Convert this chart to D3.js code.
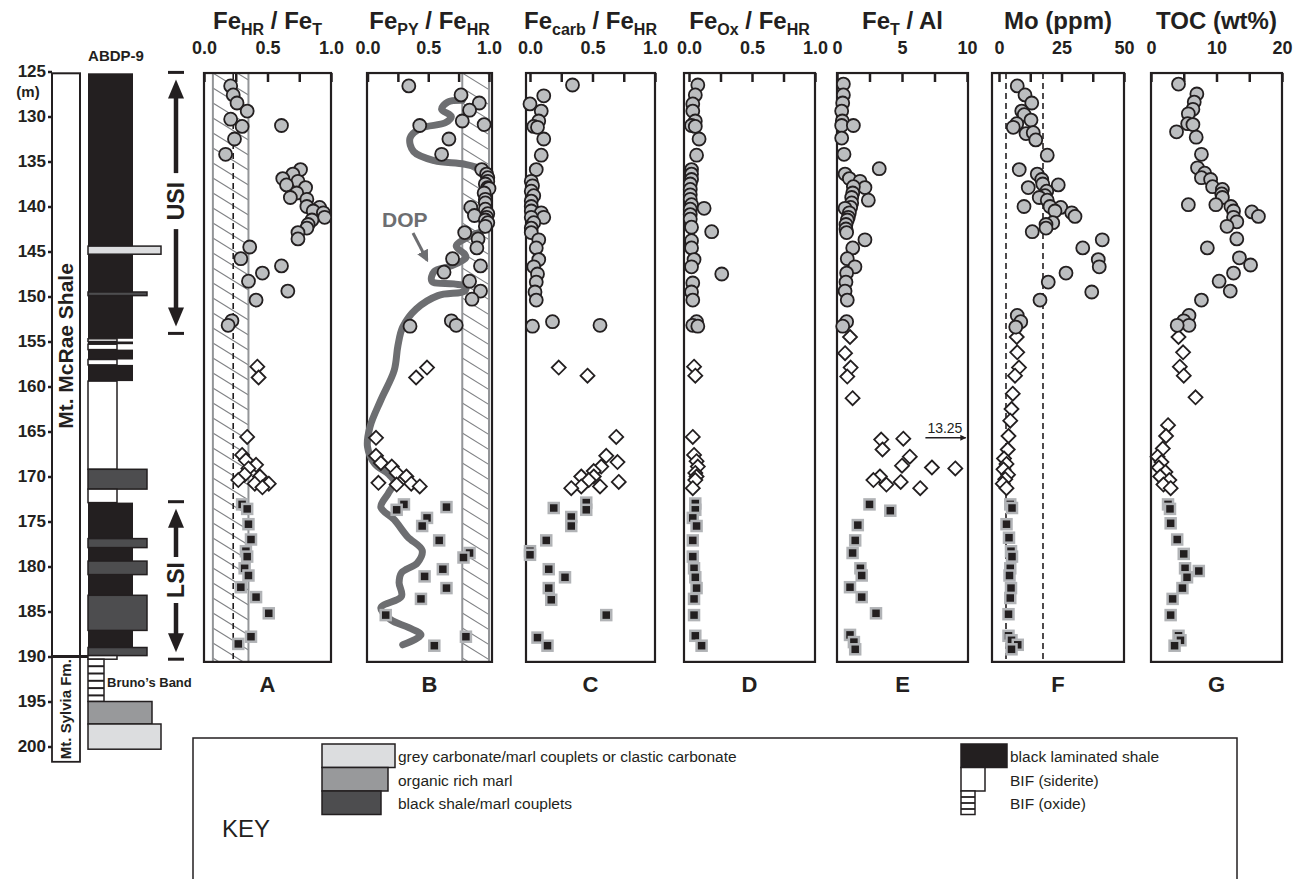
<!DOCTYPE html>
<html>
<head>
<meta charset="utf-8">
<script src="https://cdn.jsdelivr.net/npm/d3@7"></script>
<style>
  body { margin: 0; background: #fff; }
  text { font-family: "Liberation Sans", Arial, Helvetica, sans-serif; fill: #231f20; }
</style>
</head>
<body>
<svg id="chart" width="1297" height="879"></svg>
<script>
// depth axis (m)
const depthTicks = [125, 130, 135, 140, 145, 150, 155, 160, 165, 170, 175, 180, 185, 190, 195, 200];

// axis tick labels
const ratioTicks = [0, 0.5, 1.0];
const feAlTicks = [0, 5, 10];
const moTicks = [0, 25, 50];
const tocTicks = [0, 10, 20];

// reference lines / shaded bands
const feHrBand = [0.07, 0.35];
const feHrDashed = [0.23];
const fePyBand = [0.78, 1.0];
const moDashed = [2.8, 17.6];

// [depth, value] - circles (upper), diamonds (middle), squares (lower)
const feHrT_circ = [[126.6,0.21],[127.6,0.23],[128.5,0.26],[129.4,0.34],[130.3,0.21],[131.1,0.30],[131.0,0.61],[132.5,0.24],[134.2,0.17],
  [135.9,0.76],[136.4,0.70],[136.9,0.62],[137.2,0.74],[137.6,0.65],[137.9,0.80],[138.5,0.73],[139.0,0.68],[139.2,0.81],[140.0,0.81],
  [140.1,0.91],[140.5,0.86],[140.7,0.94],[141.2,0.95],[141.5,0.85],[142.0,0.82],[142.4,0.81],[142.9,0.74],[143.6,0.74],
  [144.5,0.36],[145.8,0.29],[146.6,0.61],[147.4,0.46],[148.3,0.35],[149.4,0.66],[150.4,0.41],[152.7,0.22],[153.2,0.19]];
const feHrT_dia = [[157.8,0.42],[159.0,0.43],[165.6,0.34],[167.6,0.30],[168.2,0.33],[168.7,0.41],[169.1,0.35],[169.8,0.32],
  [170.0,0.44],[170.4,0.27],[170.8,0.40],[170.8,0.51],[171.2,0.46]];
const feHrT_sq = [[173.1,0.30],[173.6,0.34],[175.3,0.35],[177.0,0.37],[178.3,0.33],[178.9,0.34],[180.2,0.32],[181.0,0.35],
  [182.3,0.29],[183.4,0.41],[185.2,0.51],[187.8,0.37],[188.6,0.27]];

const fePy_circ = [[126.6,0.34],[127.6,0.77],[128.5,0.92],[129.3,0.84],[130.5,0.78],[130.9,0.96],[131.0,0.43],[132.5,0.67],[134.2,0.61],
  [135.9,0.94],[136.4,0.98],[136.8,0.99],[137.2,0.99],[137.5,0.97],[137.9,0.99],[138.0,1.0],[138.5,0.96],[139.2,0.97],[139.6,0.97],
  [140.1,0.85],[140.3,0.97],[140.8,0.99],[141.0,0.88],[141.2,0.98],[141.5,0.97],[141.8,0.99],[142.2,0.97],[142.9,0.80],[143.6,0.91],
  [144.6,0.90],[145.8,0.70],[146.6,0.93],[147.3,0.63],[148.3,0.84],[149.4,0.93],[150.3,0.86],[152.7,0.69],[153.2,0.73],[153.3,0.35]];
const fePy_dia = [[157.9,0.49],[159.0,0.40],[165.7,0.07],[167.7,0.07],[168.5,0.11],[168.9,0.20],[169.6,0.24],[170.0,0.32],
  [170.7,0.09],[170.9,0.24],[170.8,0.36],[171.1,0.43]];
const fePy_sq = [[173.1,0.30],[173.7,0.24],[173.4,0.65],[174.6,0.49],[175.5,0.45],[177.1,0.59],[178.5,0.84],[179.0,0.79],
  [180.3,0.62],[181.1,0.47],[182.4,0.65],[183.6,0.44],[185.4,0.15],[187.8,0.81],[188.8,0.55]];
// degree of pyritization trend
const dopLine = [[128.2,0.78],[128.4,0.66],[129.2,0.61],[130.0,0.69],[130.7,0.64],[131.3,0.44],[132.4,0.35],[133.9,0.38],
  [134.9,0.55],[135.3,0.80],[135.9,0.95],[136.6,1.0],[138.6,0.99],[141.2,0.98],[142.5,0.97],[143.3,0.84],[144.4,0.73],
  [145.3,0.80],[145.7,0.81],[146.6,0.69],[147.2,0.55],[148.3,0.53],[148.6,0.71],[148.9,0.81],[149.4,0.80],[149.9,0.58],
  [151.4,0.40],[153.4,0.29],[155.5,0.25],[158.2,0.22],[161.5,0.11],[164.5,0.02],[166.7,0.0],[168.6,0.06],[169.7,0.17],
  [170.6,0.22],[171.9,0.17],[173.4,0.11],[174.8,0.22],[176.7,0.33],[178.2,0.45],[179.6,0.41],[180.7,0.28],[181.8,0.26],
  [183.3,0.28],[184.6,0.11],[185.9,0.19],[186.8,0.34],[187.6,0.44],[188.7,0.29]];

const feCarb_circ = [[126.5,0.34],[127.7,0.11],[128.6,0.00],[129.4,0.09],[130.5,0.07],[131.1,0.03],[131.2,0.06],[132.5,0.11],
  [134.3,0.09],[135.9,0.05],[137.2,0.01],[137.7,0.02],[138.3,0.01],[138.8,0.03],[139.4,0.01],[140.0,0.01],[140.5,0.01],
  [140.7,0.09],[141.2,0.11],[141.2,0.01],[141.8,0.03],[142.4,0.01],[142.9,0.01],[143.7,0.07],[144.6,0.05],[145.9,0.07],
  [146.7,0.03],[147.5,0.06],[148.4,0.05],[149.5,0.04],[150.4,0.05],[152.8,0.18],[153.3,0.02],[153.2,0.56]];
const feCarb_dia = [[157.9,0.23],[158.8,0.46],[165.6,0.69],[167.7,0.61],[168.4,0.70],[168.9,0.57],[169.4,0.51],[170.0,0.41],
  [170.0,0.51],[170.4,0.47],[170.6,0.71],[171.1,0.56],[171.1,0.41],[171.3,0.33]];
const feCarb_sq = [[173.5,0.19],[172.9,0.45],[173.7,0.45],[174.5,0.33],[175.5,0.33],[177.1,0.13],[178.3,0.00],[178.7,0.00],
  [180.3,0.15],[181.2,0.28],[182.4,0.15],[183.7,0.17],[185.4,0.61],[187.9,0.06],[188.8,0.14]];

const feOx_circ = [[126.5,0.07],[127.6,0.05],[128.6,0.03],[129.4,0.03],[130.5,0.05],[131.0,0.02],[131.1,0.05],[132.5,0.08],
  [134.3,0.06],[135.9,0.02],[136.4,0.02],[137.0,0.02],[137.5,0.01],[138.1,0.01],[138.7,0.01],[139.2,0.01],[139.8,0.02],
  [140.2,0.12],[140.3,0.01],[140.9,0.01],[141.4,0.01],[142.3,0.02],[142.8,0.18],[143.8,0.02],[144.6,0.02],[145.9,0.04],
  [146.7,0.02],[147.5,0.26],[148.5,0.03],[149.5,0.02],[150.4,0.03],[152.8,0.06],[153.2,0.03],[153.3,0.07]];
const feOx_dia = [[157.8,0.04],[158.8,0.05],[165.6,0.03],[167.6,0.04],[168.3,0.06],[168.9,0.07],[169.6,0.05],[170.0,0.06],
  [170.4,0.05],[171.3,0.03]];
const feOx_sq = [[173.0,0.05],[173.7,0.05],[174.6,0.03],[175.5,0.06],[177.1,0.03],[178.9,0.03],[180.2,0.04],[181.2,0.05],
  [182.4,0.06],[183.6,0.04],[185.4,0.04],[187.7,0.05],[188.8,0.10]];

const feTAl_circ = [[126.4,0.49],[127.6,0.49],[128.5,0.44],[129.4,0.36],[130.5,0.41],[131.0,0.36],[131.0,1.26],[132.4,0.36],
  [134.2,0.54],[135.8,3.25],[136.4,0.62],[136.9,0.95],[137.2,1.77],[137.9,2.15],[137.8,1.26],[138.5,1.21],[139.0,1.13],
  [139.3,2.41],[139.6,1.13],[140.1,1.05],[140.2,0.62],[140.7,0.95],[141.2,0.87],[141.5,0.79],[142.0,0.69],[142.5,0.69],
  [142.9,0.74],[143.7,2.15],[144.6,1.21],[145.8,0.79],[146.7,1.38],[147.4,0.74],[148.4,0.69],[149.4,0.62],[150.4,0.79],
  [152.8,0.74],[153.3,0.44]];
const feTAl_dia = [[154.5,1.00],[156.3,0.62],[157.9,1.05],[158.9,0.79],[161.3,1.2],[165.9,3.4],[167.0,3.5],[165.8,5.1],
  [167.8,5.6],[168.8,5.0],[169.0,7.3],[169.1,9.1],[170.0,3.3],[170.4,2.8],[170.9,3.8],[170.6,4.9],[171.3,6.4]];
const feTAl_sq = [[173.1,2.5],[173.8,4.1],[175.4,1.6],[177.1,1.4],[178.5,1.2],[180.2,1.8],[181.0,1.9],[182.3,1.0],
  [183.4,1.9],[185.2,3.0],[187.6,1.0],[188.4,1.3],[189.2,1.4]];
const feTAl_offscale = [165.7, 13.25];

const mo_circ = [[126.6,7.3],[127.6,10.4],[128.5,13.1],[129.4,9.1],[129.8,10.1],[130.4,12.8],[130.8,7.1],[131.2,5.7],
  [131.9,10.8],[131.8,13.7],[132.6,14.7],[134.3,19.3],[135.9,8.1],[136.4,15.3],[137.0,17.1],[137.5,17.5],[137.6,23.7],
  [137.9,11.7],[138.3,19.1],[138.8,18.4],[139.0,16.1],[139.3,19.3],[140.0,20.4],[140.0,10.0],[140.1,24.7],[140.5,22.4],
  [140.7,29.1],[141.1,30.4],[141.8,21.5],[142.0,18.8],[142.4,18.8],[142.8,13.3],[143.7,41.3],[144.6,33.5],[145.9,39.7],
  [146.7,40.1],[147.4,26.8],[148.4,19.7],[149.5,37.1],[150.4,16.4],[152.1,7.3],[152.8,8.7],[153.4,6.7]];
const mo_dia = [[154.5,7.1],[156.2,7.3],[157.9,8.0],[158.8,6.4],[160.8,5.5],[162.5,5.0],[163.8,4.5],[165.5,3.8],[167.0,3.5],
  [168.0,2.0],[168.6,3.0],[169.2,1.8],[169.8,3.6],[170.3,2.5],[170.8,1.5],[171.3,3.0]];
const mo_sq = [[173.1,4.5],[173.5,5.2],[175.3,3.0],[176.8,4.0],[178.3,4.8],[178.9,5.2],[180.2,4.5],[181.0,4.2],[182.4,4.8],
  [183.5,4.5],[185.3,3.8],[187.7,3.8],[188.2,5.0],[188.7,7.5],[189.2,5.0]];

const toc_circ = [[126.4,4.2],[127.5,7.0],[128.4,6.6],[129.2,6.4],[129.7,5.7],[130.8,5.6],[130.9,6.4],[131.7,3.9],[132.3,6.9],
  [134.2,7.7],[135.7,7.1],[136.3,8.2],[136.8,7.7],[137.0,9.1],[137.8,9.4],[138.1,10.9],[138.6,10.8],[139.0,10.9],[139.8,5.7],
  [139.8,9.9],[140.0,12.2],[140.5,12.6],[140.6,15.4],[141.1,16.4],[141.2,12.6],[141.7,13.1],[142.2,11.6],[143.6,13.1],
  [144.6,8.6],[145.7,13.5],[146.5,15.2],[147.4,12.6],[148.3,10.4],[149.4,12.1],[150.4,7.7],[152.1,5.8],[152.7,5.0],
  [153.2,5.8],[153.2,4.0]];
const toc_dia = [[154.5,4.2],[156.2,4.9],[157.8,4.4],[158.8,5.0],[161.2,6.8],[164.3,2.6],[165.5,2.3],[166.9,1.8],[167.8,1.0],
  [168.4,1.6],[169.0,1.2],[169.5,2.2],[170.0,1.4],[170.4,2.8],[170.9,1.9],[171.3,3.0]];
const toc_sq = [[173.1,2.6],[173.6,2.9],[175.2,3.0],[177.0,4.0],[178.6,5.0],[180.2,5.2],[180.5,7.3],[181.2,5.5],[182.4,4.8],
  [183.6,3.3],[185.4,3.0],[187.7,4.2],[188.2,4.5],[188.8,3.6]];

// lithology beds [top, base, type]
const lithBeds = [
  [125.2,154.7,"black"],[154.7,155.0,"siderite"],[155.0,155.3,"black"],[155.3,155.9,"siderite"],
  [155.9,157.0,"black"],[157.0,157.6,"siderite"],[157.6,159.4,"black"],[159.4,169.2,"siderite"],
  [169.2,171.4,"couplet"],[171.4,172.9,"siderite"],[172.9,176.9,"black"],[176.9,177.9,"couplet"],
  [177.9,179.4,"black"],[179.4,180.9,"couplet"],[180.9,183.2,"black"],[183.2,187.1,"couplet"],
  [187.1,189.0,"black"],[189.0,189.9,"couplet"],[189.9,190.3,"siderite"],[190.3,195.0,"oxide"],
  [195.0,197.5,"marl"],[197.5,200.3,"carb"],[144.4,145.3,"carb"],[149.5,149.9,"couplet"]];
const formations = [["Mt. McRae Shale", 125.2, 190.0], ["Mt. Sylvia Fm.", 190.0, 201.7]];
const units = [["USI", 125.1, 154.1, 139.4], ["LSI", 172.8, 190.3, 181.5]];

// ---------- layout ----------
const svg = d3.select("#chart");
const ink = "#231f20";
const y = d3.scaleLinear().domain([125, 200]).range([71.5, 746.5]);
const boxTop = y(125.17), boxBot = y(190.6);

const fmt1 = d3.format(".1f"), fmt0 = d3.format("d");
const panels = [
  { letter: "A", title: [["Fe",0],["HR",1],[" / ",0],["Fe",0],["T",1]], zero: 204, full: 331, left: 204, right: 331,
    max: 1, ticks: ratioTicks, fmt: fmt1, band: feHrBand, dashed: feHrDashed, data: [feHrT_dia, feHrT_circ, feHrT_sq] },
  { letter: "B", title: [["Fe",0],["PY",1],[" / ",0],["Fe",0],["HR",1]], zero: 367.5, full: 489, left: 367, right: 492,
    max: 1, ticks: ratioTicks, fmt: fmt1, band: fePyBand, dashed: [], data: [fePy_dia, fePy_circ, fePy_sq] },
  { letter: "C", title: [["Fe",0],["carb",1],[" / ",0],["Fe",0],["HR",1]], zero: 530, full: 655, left: 526, right: 655,
    max: 1, ticks: ratioTicks, fmt: fmt1, band: null, dashed: [], data: [feCarb_dia, feCarb_circ, feCarb_sq] },
  { letter: "D", title: [["Fe",0],["Ox",1],[" / ",0],["Fe",0],["HR",1]], zero: 689, full: 815, left: 684, right: 815,
    max: 1, ticks: ratioTicks, fmt: fmt1, band: null, dashed: [], data: [feOx_dia, feOx_circ, feOx_sq] },
  { letter: "E", title: [["Fe",0],["T",1],[" / Al",0]], zero: 837, full: 967, left: 837, right: 968,
    max: 10, ticks: feAlTicks, fmt: fmt0, band: null, dashed: [], data: [feTAl_dia, feTAl_circ, feTAl_sq] },
  { letter: "F", title: [["Mo (ppm)",0]], zero: 999, full: 1124, left: 992, right: 1124,
    max: 50, ticks: moTicks, fmt: fmt0, band: null, dashed: moDashed, data: [mo_dia, mo_circ, mo_sq] },
  { letter: "G", title: [["TOC (wt%)",0]], zero: 1151, full: 1282, left: 1151, right: 1282,
    max: 20, ticks: tocTicks, fmt: fmt0, band: null, dashed: [], data: [toc_dia, toc_circ, toc_sq] },
];

const defs = svg.append("defs");
defs.append("marker").attr("id", "headGray").attr("viewBox", "0 0 10 10").attr("refX", 8).attr("refY", 5)
  .attr("markerWidth", 4).attr("markerHeight", 4).attr("orient", "auto")
  .append("path").attr("d", "M0,0L10,5L0,10Z").attr("fill", "#6d6e71");
defs.append("marker").attr("id", "headInk").attr("viewBox", "0 0 10 10").attr("refX", 9).attr("refY", 5)
  .attr("markerWidth", 7).attr("markerHeight", 6).attr("orient", "auto").attr("markerUnits", "userSpaceOnUse")
  .append("path").attr("d", "M0,0L10,5L0,10Z").attr("fill", ink);

function title(g, cx, pieces) {
  const t = g.append("text").attr("x", cx).attr("y", 29).attr("text-anchor", "middle")
    .style("font-size", "24px").style("font-weight", "bold");
  let sub = false;
  pieces.forEach(([s, isSub]) => {
    const ts = t.append("tspan").text(s);
    if (isSub && !sub) ts.attr("dy", 6).style("font-size", "16px");
    else if (isSub) ts.style("font-size", "16px");
    else if (!isSub && sub) ts.attr("dy", -6);
    sub = !!isSub;
  });
}

panels.forEach((p, pi) => {
  const x = d3.scaleLinear().domain([0, p.max]).range([p.zero, p.full]);
  const g = svg.append("g");

  if (p.band) {
    const bx0 = x(p.band[0]), bx1 = x(p.band[1]);
    const cid = "clip" + pi;
    defs.append("clipPath").attr("id", cid).append("rect")
      .attr("x", bx0).attr("y", boxTop).attr("width", bx1 - bx0).attr("height", boxBot - boxTop);
    g.append("g").attr("clip-path", `url(#${cid})`).selectAll("line")
      .data(d3.range(boxTop - 30, boxBot + 10, 15)).join("line")
      .attr("x1", bx0).attr("y1", d => d).attr("x2", bx1).attr("y2", d => d + (bx1 - bx0) * 0.62)
      .attr("stroke", "#808285").attr("stroke-width", 1.1);
    g.selectAll(".bandEdge").data(p.band).join("line")
      .attr("x1", d => x(d)).attr("x2", d => x(d)).attr("y1", boxTop).attr("y2", boxBot)
      .attr("stroke", "#939598").attr("stroke-width", 2);
  }
  g.selectAll(".dash").data(p.dashed).join("line")
    .attr("x1", d => x(d)).attr("x2", d => x(d)).attr("y1", boxTop).attr("y2", boxBot)
    .attr("stroke", ink).attr("stroke-width", 1.6).attr("stroke-dasharray", "6,4");

  g.append("rect").attr("x", p.left).attr("y", boxTop).attr("width", p.right - p.left)
    .attr("height", boxBot - boxTop).attr("fill", "none").attr("stroke", ink).attr("stroke-width", 2.2);

  const quarter = [0, 1, 2, 3, 4].map(i => p.max * i / 4);
  const axis = d3.axisTop(x).tickValues(quarter).tickSize(-9).tickPadding(19)
    .tickFormat(v => p.ticks.includes(v) ? p.fmt(v) : "");
  const ax = g.append("g").attr("transform", `translate(0,${boxTop})`).call(axis);
  ax.select(".domain").remove();
  ax.selectAll("line").attr("stroke", ink).attr("stroke-width", 2.5);
  ax.selectAll("text").style("font-size", "18px").style("font-weight", "bold").attr("fill", ink);

  title(g, (p.left + p.right) / 2, p.title);
  g.append("text").attr("x", (p.left + p.right) / 2).attr("y", 692).attr("text-anchor", "middle")
    .style("font-size", "22px").style("font-weight", "bold").text(p.letter);

  if (p.letter === "B") {
    g.append("path").datum(dopLine)
      .attr("d", d3.line().x(d => x(d[1])).y(d => y(d[0])).curve(d3.curveCatmullRom.alpha(0.5)))
      .attr("fill", "none").attr("stroke", "#6d6e71").attr("stroke-width", 7)
      .attr("stroke-linecap", "round").attr("stroke-linejoin", "round");
    g.append("text").attr("x", 382).attr("y", 227).style("font-size", "21px").style("font-weight", "bold")
      .style("fill", "#6d6e71").text("DOP");
    g.append("line").attr("x1", 413).attr("y1", 233).attr("x2", 427).attr("y2", 260)
      .attr("stroke", "#6d6e71").attr("stroke-width", 3).attr("marker-end", "url(#headGray)");
  }

  const [dia, circ, sq] = p.data;
  g.selectAll(".dia").data(dia).join("path")
    .attr("transform", d => `translate(${x(d[1])},${y(d[0])})`)
    .attr("d", "M0,-7L7,0L0,7L-7,0Z").attr("fill", "#fff").attr("stroke", ink).attr("stroke-width", 1.8);
  g.selectAll(".circ").data(circ).join("circle")
    .attr("cx", d => x(d[1])).attr("cy", d => y(d[0])).attr("r", 6.5)
    .attr("fill", "#bcbec0").attr("stroke", ink).attr("stroke-width", 1.8);
  g.selectAll(".sq").data(sq).join("rect")
    .attr("x", d => x(d[1]) - 5).attr("y", d => y(d[0]) - 5).attr("width", 10).attr("height", 10)
    .attr("fill", ink).attr("stroke", "#b1b3b6").attr("stroke-width", 2.5);

  if (p.letter === "E") {
    const yy = y(feTAl_offscale[0]);
    g.append("line").attr("x1", x(6.8)).attr("x2", x(9.9)).attr("y1", yy).attr("y2", yy)
      .attr("stroke", ink).attr("stroke-width", 1.5).attr("marker-end", "url(#headInk)");
    g.append("text").attr("x", x(8.3)).attr("y", yy - 5).attr("text-anchor", "middle")
      .style("font-size", "14px").text(d3.format(".2f")(feTAl_offscale[1]));
  }
});

// ---------- depth axis & formation column ----------
const colL = 52, colR = 80;
svg.append("g").attr("transform", `translate(${colL},0)`)
  .call(d3.axisLeft(y).tickValues(depthTicks).tickSize(4).tickPadding(2).tickFormat(fmt0))
  .call(a => a.select(".domain").remove())
  .call(a => a.selectAll("line").attr("stroke", ink).attr("stroke-width", 2.5))
  .call(a => a.selectAll("text").style("font-size", "17px").style("font-weight", "bold").attr("fill", ink));
svg.append("text").attr("x", 28).attr("y", 97).attr("text-anchor", "middle")
  .style("font-size", "15px").style("font-weight", "bold").text("(m)");

formations.forEach(([name, top, base], i) => {
  svg.append("rect").attr("x", colL).attr("y", y(top)).attr("width", colR - colL).attr("height", y(base) - y(top))
    .attr("fill", "#fff").attr("stroke", ink).attr("stroke-width", i === 0 ? 2 : 1.8);
  const cy = i === 0 ? 346 : (y(top) + y(base)) / 2;
  svg.append("text").attr("transform", `translate(${(colL + colR) / 2 + (i === 0 ? 7 : 5)},${cy}) rotate(-90)`)
    .attr("text-anchor", "middle").style("font-size", i === 0 ? "21px" : "15px").style("font-weight", "bold").text(name);
});
svg.append("line").attr("x1", colL).attr("x2", colR + 8).attr("y1", y(190)).attr("y2", y(190))
  .attr("stroke", ink).attr("stroke-width", 3);

// ---------- lithology column ----------
const lithL = 88;
const lithWidth = { black: 45, siderite: 29, couplet: 59, marl: 64, carb: 73, oxide: 16 };
const lithFill = { black: ink, siderite: "#fff", couplet: "#4d4d4f", marl: "#98999b", carb: "#dcdddf", oxide: "#fff" };
svg.append("text").attr("x", 116).attr("y", 61).attr("text-anchor", "middle")
  .style("font-size", "15px").style("font-weight", "bold").text("ABDP-9");
const lith = svg.append("g");
lithBeds.forEach(([top, base, type]) => {
  lith.append("rect").attr("x", lithL).attr("y", y(top)).attr("width", lithWidth[type])
    .attr("height", Math.max(2, y(base) - y(top))).attr("fill", lithFill[type])
    .attr("stroke", type === "black" ? "none" : ink).attr("stroke-width", 1.5);
  if (type === "oxide") {
    lith.selectAll(".ox").data(d3.range(y(top) + 7, y(base), 7.3)).join("line")
      .attr("x1", lithL).attr("x2", lithL + lithWidth.oxide).attr("y1", d => d).attr("y2", d => d)
      .attr("stroke", ink).attr("stroke-width", 2);
  }
});
svg.append("text").attr("x", 107).attr("y", 687).style("font-size", "13px").style("font-weight", "bold")
  .text("Bruno\u2019s Band");

// ---------- USI / LSI ----------
const ux = 176;
units.forEach(([name, top, base, mid]) => {
  const g = svg.append("g");
  const y0 = y(top), y1 = y(base), ym = y(mid);
  [y0, y1].forEach(v => g.append("line").attr("x1", ux - 8).attr("x2", ux + 8).attr("y1", v).attr("y2", v)
    .attr("stroke", ink).attr("stroke-width", 3));
  const half = name === "USI" ? 28 : 23;
  g.append("line").attr("x1", ux).attr("x2", ux).attr("y1", y0 + 24).attr("y2", ym - half)
    .attr("stroke", ink).attr("stroke-width", 4.5);
  g.append("line").attr("x1", ux).attr("x2", ux).attr("y1", ym + half).attr("y2", y1 - 24)
    .attr("stroke", ink).attr("stroke-width", 4.5);
  g.append("path").attr("d", `M${ux},${y0 + 7}L${ux + 8},${y0 + 26}L${ux - 8},${y0 + 26}Z`).attr("fill", ink);
  g.append("path").attr("d", `M${ux},${y1 - 7}L${ux + 8},${y1 - 26}L${ux - 8},${y1 - 26}Z`).attr("fill", ink);
  g.append("text").attr("transform", `translate(${ux + 8},${ym}) rotate(-90)`).attr("text-anchor", "middle")
    .style("font-size", "23px").style("font-weight", "bold").text(name);
});

// ---------- key ----------
const key = svg.append("g");
key.append("rect").attr("x", 193).attr("y", 738).attr("width", 1044).attr("height", 160)
  .attr("fill", "#fff").attr("stroke", ink).attr("stroke-width", 1.5);
key.append("text").attr("x", 222).attr("y", 837).style("font-size", "24px").text("KEY");
const keyLeft = [["carb", 73, "grey carbonate/marl couplets or clastic carbonate"],
  ["marl", 66, "organic rich marl"], ["couplet", 59, "black shale/marl couplets"]];
keyLeft.forEach(([type, w, label], i) => {
  key.append("rect").attr("x", 322).attr("y", 744 + i * 23.5).attr("width", w).attr("height", 23.5)
    .attr("fill", lithFill[type]).attr("stroke", ink).attr("stroke-width", 1.5);
  key.append("text").attr("x", 398).attr("y", 762 + i * 23.5).style("font-size", "15.5px").text(label);
});
const keyRight = [["black", 46, "black laminated shale"], ["siderite", 24, "BIF (siderite)"], ["oxide", 14, "BIF (oxide)"]];
keyRight.forEach(([type, w, label], i) => {
  const ky = 744 + i * 23.5;
  key.append("rect").attr("x", 961).attr("y", ky).attr("width", w).attr("height", 23.5)
    .attr("fill", lithFill[type]).attr("stroke", ink).attr("stroke-width", 1.5);
  if (type === "oxide") {
    key.selectAll(".kox").data([ky + 6, ky + 12, ky + 18]).join("line")
      .attr("x1", 961).attr("x2", 961 + w).attr("y1", d => d).attr("y2", d => d)
      .attr("stroke", ink).attr("stroke-width", 1.8);
  }
  key.append("text").attr("x", 1010).attr("y", 762 + i * 23.5).style("font-size", "15.5px").text(label);
});
</script>
</body>
</html>
